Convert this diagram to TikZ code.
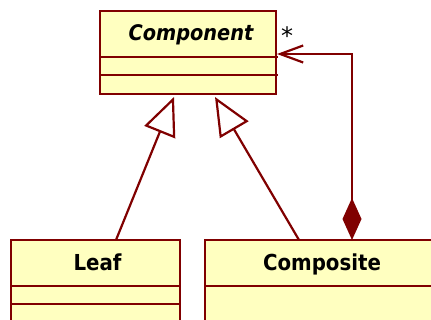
\documentclass[tikz,border=0pt]{standalone}
\usepackage{fontspec}
\setmainfont{DejaVu Sans}
\newfontfamily\condfont{DejaVu Sans Condensed}
\usetikzlibrary{arrows.meta}
\definecolor{umlline}{HTML}{800000}
\definecolor{umlfill}{HTML}{FFFFC0}
\begin{document}
\begin{tikzpicture}[x=1pt,y=-1pt,
  umlbox/.style={draw=umlline, fill=umlfill, line width=2.2pt, anchor=north west, inner sep=0pt, outer sep=0pt},
  sep/.style={draw=umlline, line width=2.2pt},
  cname/.style={font=\condfont\fontsize{22}{26}\selectfont\bfseries, anchor=base, inner sep=0pt},
  inherit/.style={draw=umlline, line width=2.2pt, -{Triangle[open, length=38pt, width=33pt, fill=white]}},
  compo/.style={draw=umlline, line width=2.2pt, {Diamond[length=42pt, width=19pt, fill=umlline]}-{Straight Barb[length=23pt, width=17pt]}}
]
\useasboundingbox (0,0) rectangle (431,320);
% Component
\node[umlbox, minimum width=176pt, minimum height=83pt] (comp) at (100,11) {};
\draw[sep] (100,57) -- (278,57);
\draw[sep] (100,75) -- (278,75);
\node[cname, font=\condfont\fontsize{21.5}{26}\selectfont\bfseries\itshape] (compname) at (191,41) {Component};
% Leaf
\node[umlbox, minimum width=169pt, minimum height=100pt] (leaf) at (11,240) {};
\draw[sep] (11,286) -- (181,286);
\draw[sep] (11,304) -- (181,304);
\node[cname] (leafname) at (97.5,271) {Leaf};
% Composite
\node[umlbox, minimum width=240pt, minimum height=100pt] (composite) at (205,240) {};
\draw[sep] (205,286) -- (440,286);
\node[cname] (compositename) at (322,271) {Composite};
% inheritance
\coordinate (leaftop) at (116,240);
\coordinate (comptopL) at (299,240);
\coordinate (apexA) at (174,97);
\coordinate (apexB) at (215,97);
\draw[inherit] (leaftop) -- (apexA);
\draw[inherit] (comptopL) -- (apexB);
% composition
\coordinate (dstart) at (352,240);
\coordinate (bend) at (352,54);
\coordinate (aend) at (277,54);
\draw[compo] (dstart) -- (bend) -- (aend);
\node[font=\fontsize{24}{26}\selectfont, anchor=base, inner sep=0pt] (mult) at (287,45) {*};
\end{tikzpicture}
\end{document}
